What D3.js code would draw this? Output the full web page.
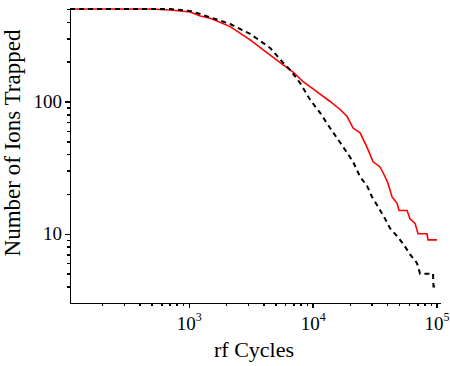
<!DOCTYPE html>
<html>
<head>
    <meta charset="utf-8">
    <title>Ions trapped vs rf cycles</title>
    <script src="https://cdnjs.cloudflare.com/ajax/libs/d3/7.8.5/d3.min.js"></script>
</head>
<style media="screen">
    body { margin: 0; background: #fff; }
    svg { display: block; font-family: "Liberation Serif", "DejaVu Serif", serif; }
    .axis path, .axis line {
        fill: none;
        stroke: #000;
        stroke-width: 1.5;
        shape-rendering: crispEdges;
    }
    .axis text { font-size: 19px; fill: #000; font-family: "Liberation Serif", serif; }
    .red-line { fill: none; stroke: #ff0000; stroke-width: 1.6px; }
    .black-line { fill: none; stroke: #000; stroke-width: 2px; stroke-dasharray: 5,4; }
</style>
<body>
    <script>
        // red (solid) series
        var redCycles = [110, 490, 709, 1028, 1238, 1491, 2161, 3133, 4296, 5781, 6961, 8383, 10870, 13840,
            16670, 18980, 21210, 24160, 27510, 30750, 35030, 38430, 40640, 43760, 48030, 49840, 57810,
            61130, 67080, 70940, 83830, 85390, 100900];
        var redIons = [500, 500, 491, 474, 443, 426, 368, 292, 233, 189, 167, 141, 118, 100,
            87, 77, 63, 58, 45, 35, 32, 27, 24, 19, 17, 15, 15,
            13, 12, 10, 10, 9, 9];

        // black (dashed) series
        var blackCycles = [110, 709, 1028, 1238, 2161, 3133, 4543, 5781, 6585, 7930, 9546, 11500, 13840,
            16670, 18980, 21210, 24160, 27510, 30180, 33750, 38430, 42170, 46270, 50780, 55720, 61130,
            69610, 73610, 93720, 94500, 100900];
        var blackIons = [500, 500, 483, 458, 385, 324, 254, 196, 173, 138, 103, 82, 63,
            49, 41, 35, 27, 23, 19, 16, 13, 11, 10, 9, 8, 7,
            6, 5, 5, 4, 4];

        var xMajor = [1000, 10000, 100000];
        var xExp = ["3", "4", "5"];
        var xMinor = [200, 300, 400, 500, 600, 700, 800, 900,
            2000, 3000, 4000, 5000, 6000, 7000, 8000, 9000,
            20000, 30000, 40000, 50000, 60000, 70000, 80000, 90000];
        var yMajor = [10, 100];
        var yMinor = [4, 5, 6, 7, 8, 9, 20, 30, 40, 50, 60, 70, 80, 90, 200, 300, 400, 500];

        var W = 450, H = 366;
        var plotL = 70, plotR = 440, plotT = 9, plotB = 303;

        var svg = d3.select("body").append("svg")
            .attr("width", W)
            .attr("height", H);

        svg.append("rect").attr("width", W).attr("height", H).attr("fill", "#fff");

        var x = d3.scaleLog().domain([110, 106700]).range([plotL, plotR]);
        var y = d3.scaleLog().domain([3, 500]).range([plotB, plotT]);

        var line = d3.line()
            .x(function(d) { return x(d[0]); })
            .y(function(d) { return y(d[1]); });

        var red = d3.zip(redCycles, redIons);
        var black = d3.zip(blackCycles, blackIons);

        svg.append("path").attr("class", "red-line").attr("d", line(red));
        svg.append("path").attr("class", "black-line").attr("d", line(black));

        // x axis: minor then major ticks
        svg.append("g")
            .attr("class", "axis")
            .attr("transform", "translate(0," + plotB + ")")
            .call(d3.axisBottom(x).tickValues(xMinor).tickSize(3).tickSizeOuter(0).tickFormat(""));

        var xAx = svg.append("g")
            .attr("class", "axis")
            .attr("transform", "translate(0," + plotB + ")")
            .call(d3.axisBottom(x).tickValues(xMajor).tickSize(5).tickSizeOuter(0).tickFormat(""));
        xAx.select(".domain").remove();

        xAx.selectAll(".tick").each(function(d, i) {
            var t = d3.select(this).append("text")
                .attr("y", 27)
                .attr("x", 0)
                .attr("text-anchor", "middle")
                .attr("fill", "#000");
            t.append("tspan").text("10");
            t.append("tspan").attr("dy", -9).style("font-size", "12px").text(xExp[i]);
        });

        // y axis
        svg.append("g")
            .attr("class", "axis")
            .attr("transform", "translate(" + plotL + ",0)")
            .call(d3.axisLeft(y).tickValues(yMinor).tickSize(3).tickSizeOuter(0).tickFormat(""));

        var yAx = svg.append("g")
            .attr("class", "axis")
            .attr("transform", "translate(" + plotL + ",0)")
            .call(d3.axisLeft(y).tickValues(yMajor).tickSize(5).tickSizeOuter(0).tickPadding(3).tickFormat(d3.format("d")));
        yAx.select(".domain").remove();

        // titles
        svg.append("text")
            .attr("x", 254)
            .attr("y", 357)
            .attr("text-anchor", "middle")
            .style("font-size", "22px")
            .text("rf Cycles");

        svg.append("text")
            .attr("transform", "translate(20,143) rotate(-90)")
            .attr("text-anchor", "middle")
            .style("font-size", "23px")
            .text("Number of Ions Trapped");
    </script>
</body>
</html>
